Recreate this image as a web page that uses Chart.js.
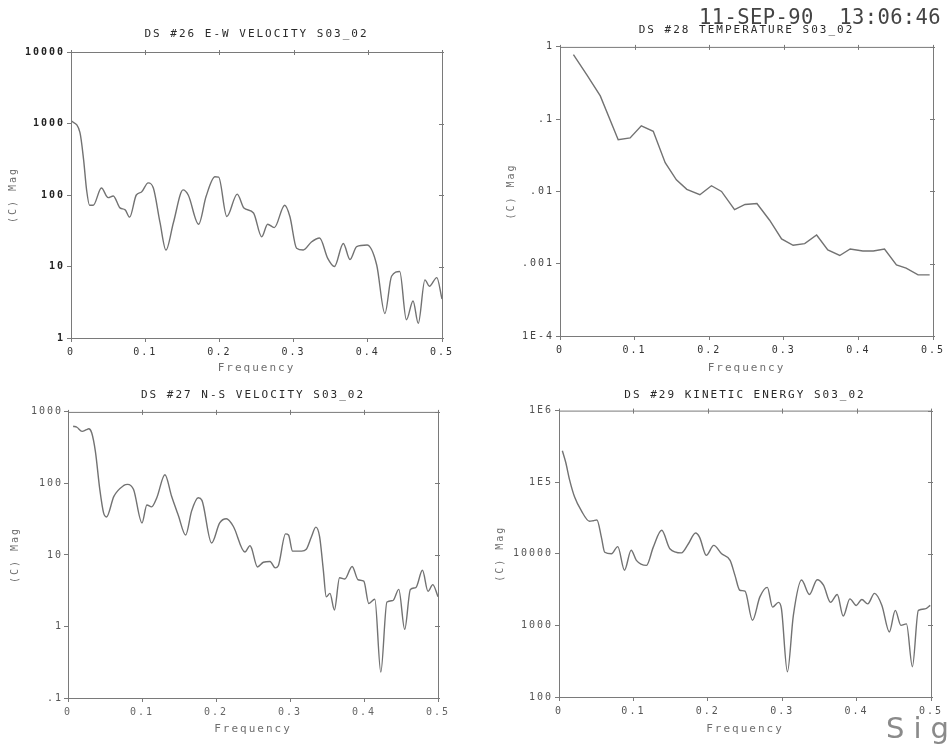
<!DOCTYPE html>
<html><head><meta charset="utf-8">
<script src="https://cdn.jsdelivr.net/npm/chart.js@4/dist/chart.umd.min.js"></script>
<style>
html,body{margin:0;padding:0;background:#fff;overflow:hidden;width:951px;height:744px;}
canvas{position:absolute;}
#stamp{position:absolute;left:699px;top:5px;font:20.5px "DejaVu Sans Mono",monospace;color:#444;white-space:pre;line-height:24px;letter-spacing:0.4px;}
#sig{position:absolute;left:886px;top:711px;font:29px "DejaVu Sans",sans-serif;color:#8a8a8a;letter-spacing:9px;white-space:pre;line-height:34px;}
</style></head><body>
<canvas id="c1" width="452" height="358" style="left:0px;top:20px"></canvas>
<canvas id="c2" width="454" height="356" style="left:489px;top:20px"></canvas>
<canvas id="c3" width="448" height="353" style="left:0px;top:385px"></canvas>
<canvas id="c4" width="453" height="352" style="left:488px;top:385px"></canvas>
<div id="stamp">11-SEP-90  13:06:46</div>
<div id="sig">Sig</div>
<script>
// ---- shared x axis ----
const xTickValues = [0, 0.1, 0.2, 0.3, 0.4, 0.5];
const xTickLabels = ["0", "0.1", "0.2", "0.3", "0.4", "0.5"];

// ---- DS #26 E-W velocity ----
const ewFreq = [0,0.012,0.017,0.021,0.025,0.030,0.041,0.050,0.057,0.066,0.073,0.079,0.088,0.095,0.104,0.111,0.120,0.128,0.138,0.151,0.158,0.172,0.182,0.194,0.199,0.210,0.224,0.233,0.246,0.257,0.265,0.274,0.288,0.295,0.304,0.313,0.324,0.335,0.346,0.355,0.367,0.376,0.385,0.399,0.412,0.423,0.432,0.443,0.452,0.461,0.468,0.477,0.483,0.493,0.500];
const ewMag  = [1100,750,310,118,72,72,125,92,97,66,62,49,100,110,148,125,41,17,41,118,100,39,95,180,178,50,103,66,56,26,39,35,72,50,18,17,22,25,13,10,21,12.5,19,20,10.5,2.2,7.3,8.5,1.8,3.3,1.6,6.5,5.3,7,3.5];
const ewTickValues = [1, 10, 100, 1000, 10000];
const ewTickLabels = ["1", "10", "100", "1000", "10000"];

// ---- DS #28 temperature ----
const tempFreq = [0.018,0.036,0.054,0.078,0.094,0.109,0.125,0.141,0.156,0.170,0.1875,0.203,0.2165,0.234,0.248,0.264,0.281,0.297,0.3125,0.328,0.344,0.359,0.375,0.389,0.406,0.420,0.435,0.451,0.464,0.480,0.4955];
const tempMag  = [0.78,0.41,0.21,0.052,0.055,0.081,0.068,0.025,0.0145,0.0107,0.0090,0.012,0.0100,0.0056,0.0066,0.0068,0.0040,0.0022,0.0018,0.0019,0.0025,0.00155,0.0013,0.0016,0.0015,0.0015,0.0016,0.00096,0.00087,0.00070,0.00070];
const tempTickValues = [0.0001, 0.001, 0.01, 0.1, 1];
const tempTickLabels = ["1E-4", ".001", ".01", ".1", "1"];

// ---- DS #27 N-S velocity ----
const nsFreq = [0.007,0.012,0.019,0.025,0.028,0.032,0.037,0.043,0.048,0.052,0.062,0.075,0.0805,0.0886,0.100,0.1066,0.113,0.120,0.131,0.140,0.149,0.159,0.167,0.176,0.181,0.194,0.205,0.214,0.2235,0.239,0.246,0.248,0.256,0.264,0.273,0.280,0.284,0.294,0.298,0.3035,0.3157,0.322,0.329,0.335,0.340,0.345,0.349,0.354,0.360,0.367,0.374,0.384,0.392,0.3997,0.4065,0.4146,0.4227,0.431,0.439,0.447,0.455,0.4627,0.470,0.479,0.4865,0.493,0.500];
const nsMag  = [630,610,535,565,580,510,280,82,39,34,66,93,97,82,28,50,47,63,132,66,36,19,41,63,58,14.7,28,32,25,11,13.5,12.5,6.8,7.9,8.1,6.6,7,19.7,19,11.3,11.3,12,18,24.5,18,6.2,2.6,2.9,1.7,4.8,4.6,6.9,4.5,4.3,2.1,2.4,0.23,2.2,2.3,3.3,0.91,3.3,3.5,6.1,3.1,3.85,2.6];
const nsTickValues = [0.1, 1, 10, 100, 1000];
const nsTickLabels = [".1", "1", "10", "100", "1000"];

// ---- DS #29 kinetic energy ----
const keFreq = [0.0045,0.009,0.0144,0.021,0.030,0.041,0.046,0.051,0.057,0.0615,0.0705,0.079,0.088,0.097,0.104,0.1176,0.1266,0.138,0.149,0.1647,0.1737,0.1836,0.189,0.198,0.208,0.2186,0.230,0.2365,0.243,0.250,0.260,0.270,0.280,0.287,0.295,0.299,0.307,0.315,0.326,0.3366,0.347,0.3555,0.365,0.374,0.382,0.391,0.3995,0.407,0.415,0.424,0.434,0.444,0.452,0.4596,0.467,0.475,0.483,0.492,0.499];
const keMag  = [275000,190000,106000,62000,40000,28500,29000,29700,17000,10500,10000,12600,5900,11200,8100,6900,12300,21300,11800,10300,13700,19500,17000,9500,13100,10000,8100,5000,3100,3000,1180,2500,3400,1800,2100,1700,225,1380,4300,2700,4350,3650,2100,2700,1350,2350,1900,2300,2000,2800,1900,810,1620,1000,1050,265,1620,1700,1900];
const keTickValues = [100, 1000, 10000, 100000, 1000000];
const keTickLabels = ["100", "1000", "10000", "1E5", "1E6"];

const AXIS = '#7a7a7a';
const SPACING = '2px';
const spacing = {
  id: 'spacing',
  beforeInit(c) { c.ctx.letterSpacing = SPACING; },
  beforeUpdate(c) { c.ctx.letterSpacing = SPACING; },
  beforeLayout(c) { c.ctx.letterSpacing = SPACING; },
  beforeDraw(c) { c.ctx.letterSpacing = SPACING; }
};
const frame = {
  id: 'frame',
  afterDraw(chart) {
    const {ctx, chartArea: a, scales} = chart;
    ctx.save();
    ctx.strokeStyle = AXIS; ctx.lineWidth = 1;
    ctx.strokeRect(a.left + 0.5, a.top + 0.5, a.right - a.left, a.bottom - a.top);
    ctx.beginPath();
    scales.x.ticks.forEach(t => {
      const px = Math.round(scales.x.getPixelForValue(t.value)) + 0.5;
      ctx.moveTo(px, a.top - 2); ctx.lineTo(px, a.top + 3);
    });
    scales.y.ticks.forEach(t => {
      const py = Math.round(scales.y.getPixelForValue(t.value)) + 0.5;
      ctx.moveTo(a.right - 3, py); ctx.lineTo(a.right + 2, py);
    });
    ctx.stroke();
    ctx.restore();
  }
};

function makeChart(id, freq, mag, yVals, yLabels, title, o) {
  const pts = freq.map((f, i) => ({x: f, y: mag[i]}));
  new Chart(document.getElementById(id), {
    type: 'line',
    data: {datasets: [{data: pts, borderColor: '#727272', borderWidth: 1.4, pointRadius: 0,
      tension: o.smooth ? 0.4 : 0, cubicInterpolationMode: o.smooth ? 'monotone' : 'default', fill: false}]},
    options: {
      responsive: false, animation: false, devicePixelRatio: 1,
      layout: {padding: {left: 0, right: 10, top: 0, bottom: 0}},
      plugins: {
        legend: {display: false}, tooltip: {enabled: false},
        title: {display: true, text: title, fullSize: false, color: '#2a2a2a',
          font: {family: 'DejaVu Sans Mono', size: 11, weight: 'normal', lineHeight: 1.2},
          padding: {top: o.tPadTop, bottom: o.tPadBottom}}
      },
      scales: {
        x: {type: 'linear', min: 0, max: 0.5,
          afterBuildTicks: s => { s.ticks = xTickValues.map(v => ({value: v})); },
          afterFit: s => { s.height = 40; s.paddingLeft = 0; s.paddingRight = 0; },
          ticks: {autoSkip: false, maxRotation: 0, padding: 4, color: o.xTickColor,
            font: {family: 'DejaVu Sans Mono', size: 10},
            callback: (v, i) => xTickLabels[i]},
          grid: {drawOnChartArea: false, drawTicks: true, tickLength: 4, color: AXIS},
          border: {display: true, color: AXIS},
          title: {display: true, text: 'Frequency', color: '#6f6f6f',
            font: {family: 'DejaVu Sans Mono', size: 11, lineHeight: 1.2},
            padding: {top: 0, bottom: o.xTitlePad}}
        },
        y: {type: 'logarithmic', min: yVals[0], max: yVals[yVals.length - 1],
          afterBuildTicks: s => { s.ticks = yVals.map(v => ({value: v})); },
          afterFit: s => { s.width = o.yWidth; s.paddingTop = 0; s.paddingBottom = 0; },
          ticks: {autoSkip: false, padding: o.yTickPad, color: o.yTickColor,
            font: {family: 'DejaVu Sans Mono', size: 10, weight: o.bold ? 'bold' : 'normal'},
            callback: (v, i) => yLabels[i]},
          grid: {drawOnChartArea: false, drawTicks: true, tickLength: 4, color: AXIS},
          border: {display: true, color: AXIS},
          title: {display: true, text: '(C) Mag', color: '#6f6f6f',
            font: {family: 'DejaVu Sans Mono', size: 10, lineHeight: 1.2},
            padding: {top: o.yTitlePad, bottom: 0}}
        }
      }
    },
    plugins: [spacing, frame]
  });
}

makeChart('c1', ewFreq, ewMag, ewTickValues, ewTickLabels, 'DS #26 E-W VELOCITY S03_02',
  {smooth: true, tPadTop: 8, tPadBottom: 10.8, xTitlePad: 3, yWidth: 71, yTickPad: 2, yTitlePad: 7, bold: true, xTickColor: '#333', yTickColor: '#222'});
makeChart('c2', tempFreq, tempMag, tempTickValues, tempTickLabels, 'DS #28 TEMPERATURE S03_02',
  {smooth: false, tPadTop: 4, tPadBottom: 9.7, xTitlePad: 1, yWidth: 71, yTickPad: 2, yTitlePad: 16.7, bold: false, xTickColor: '#333', yTickColor: '#444'});
makeChart('c3', nsFreq, nsMag, nsTickValues, nsTickLabels, 'DS #27 N-S VELOCITY S03_02',
  {smooth: true, tPadTop: 4, tPadBottom: 9.7, xTitlePad: 2, yWidth: 68, yTickPad: 1, yTitlePad: 9, bold: false, xTickColor: '#666', yTickColor: '#555'});
makeChart('c4', keFreq, keMag, keTickValues, keTickLabels, 'DS #29 KINETIC ENERGY S03_02',
  {smooth: true, tPadTop: 4, tPadBottom: 8.4, xTitlePad: 1, yWidth: 71, yTickPad: 2, yTitlePad: 6.4, bold: false, xTickColor: '#555', yTickColor: '#555'});
</script>
</body></html>
